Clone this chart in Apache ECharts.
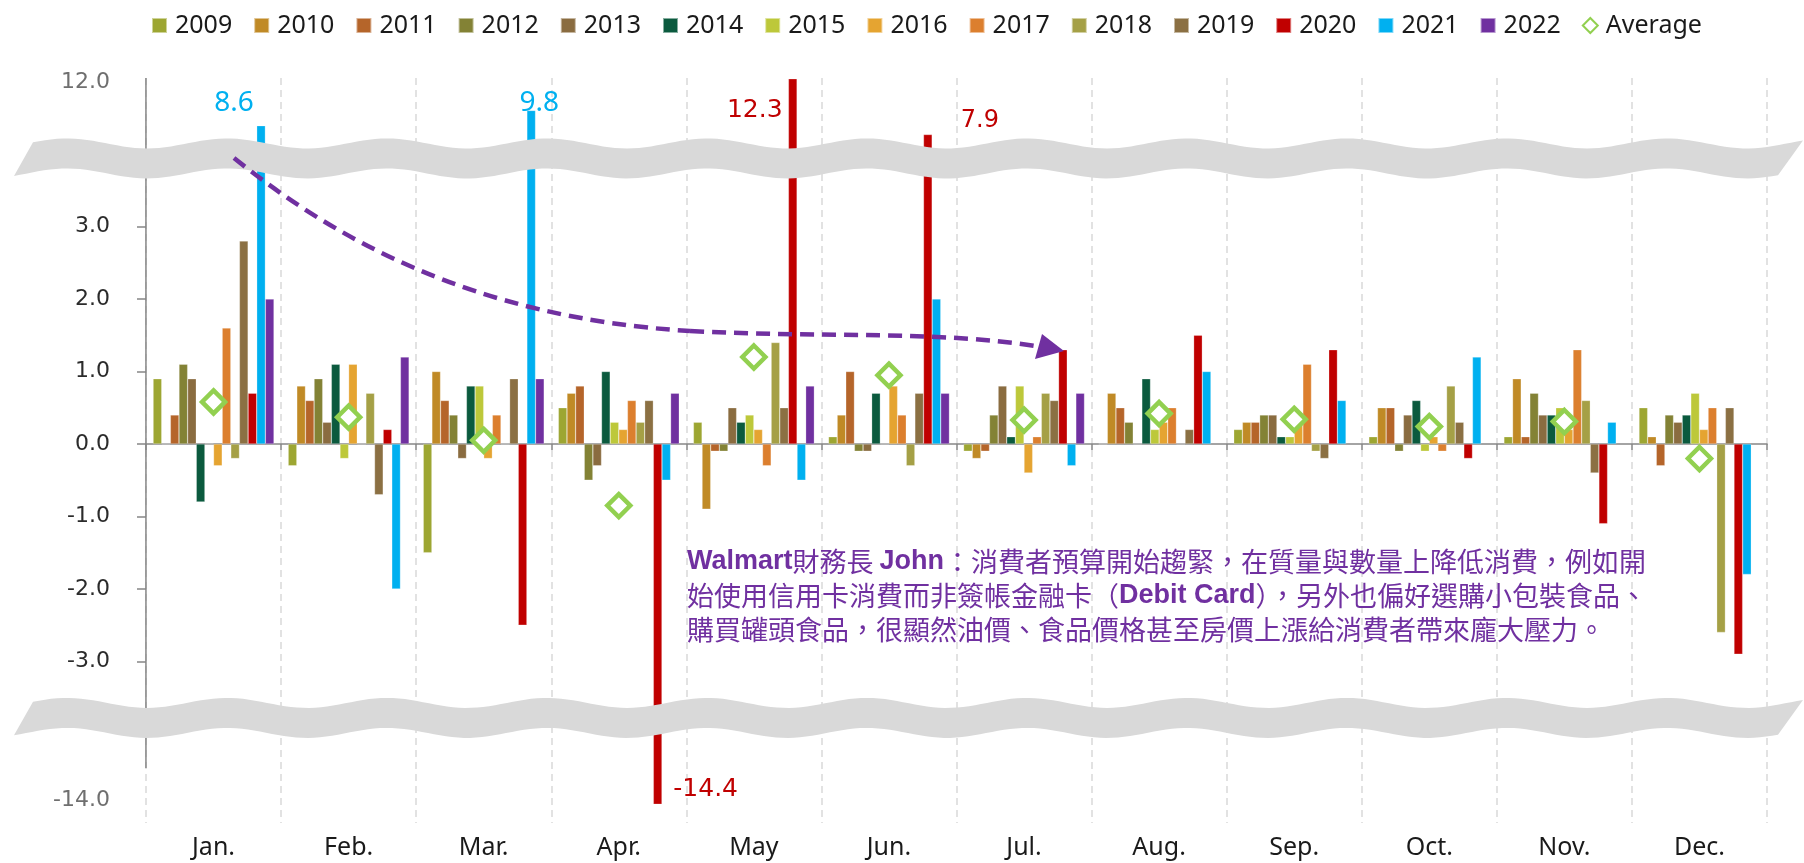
<!DOCTYPE html>
<html>
<head>
<meta charset="utf-8">
<script src="https://cdn.jsdelivr.net/npm/echarts@6/dist/echarts.min.js"></script>
<style>
    html, body { margin: 0; padding: 0; background: #fff; }
    #main { width: 1804px; height: 863px; }
</style>
</head>
<body>
<div id="main"></div>
<script>
    // categories
    var months = ['Jan.', 'Feb.', 'Mar.', 'Apr.', 'May', 'Jun.', 'Jul.', 'Aug.', 'Sep.', 'Oct.', 'Nov.', 'Dec.'];
    var years = ['2009', '2010', '2011', '2012', '2013', '2014', '2015', '2016', '2017', '2018', '2019', '2020', '2021', '2022'];

    // monthly values per year
    var v2009 = [0.9, -0.3, -1.5, 0.5, 0.3, 0.1, -0.1, 0, 0.2, 0.1, 0.1, 0.5];
    var v2010 = [0, 0.8, 1.0, 0.7, -0.9, 0.4, -0.2, 0.7, 0.3, 0.5, 0.9, 0.1];
    var v2011 = [0.4, 0.6, 0.6, 0.8, -0.1, 1.0, -0.1, 0.5, 0.3, 0.5, 0.1, -0.3];
    var v2012 = [1.1, 0.9, 0.4, -0.5, -0.1, -0.1, 0.4, 0.3, 0.4, -0.1, 0.7, 0.4];
    var v2013 = [0.9, 0.3, -0.2, -0.3, 0.5, -0.1, 0.8, 0, 0.4, 0.4, 0.4, 0.3];
    var v2014 = [-0.8, 1.1, 0.8, 1.0, 0.3, 0.7, 0.1, 0.9, 0.1, 0.6, 0.4, 0.4];
    var v2015 = [0, -0.2, 0.8, 0.3, 0.4, 0, 0.8, 0.2, 0.1, -0.1, 0.5, 0.7];
    var v2016 = [-0.3, 1.1, -0.2, 0.2, 0.2, 0.8, -0.4, 0.3, 0.3, 0.1, 0.2, 0.2];
    var v2017 = [1.6, 0, 0.4, 0.6, -0.3, 0.4, 0.1, 0.5, 1.1, -0.1, 1.3, 0.5];
    var v2018 = [-0.2, 0.7, 0, 0.3, 1.4, -0.3, 0.7, 0, -0.1, 0.8, 0.6, -2.6];
    var v2019 = [2.8, -0.7, 0.9, 0.6, 0.5, 0.7, 0.6, 0.2, -0.2, 0.3, -0.4, 0.5];
    var v2020 = [0.7, 0.2, -2.5, -14.4, 12.3, 7.9, 1.3, 1.5, 1.3, -0.2, -1.1, -2.9];
    var v2021 = [8.6, -2.0, 9.8, -0.5, -0.5, 2.0, -0.3, 1.0, 0.6, 1.2, 0.3, -1.8];
    var v2022 = [2.0, 1.2, 0.9, 0.7, 0.8, 0.7, 0.7, null, null, null, null, null];
    var average = [0.58, 0.37, 0.05, -0.85, 1.2, 0.95, 0.33, 0.42, 0.34, 0.24, 0.31, -0.2];

    var yearValues = [v2009, v2010, v2011, v2012, v2013, v2014, v2015, v2016, v2017, v2018, v2019, v2020, v2021, v2022];

    // y-axis tick labels (real values) on the broken axis
    var labelTicks = [-14, -3, -2, -1, 0, 1, 2, 3, 12];
    var markTicks = [-3, -2, -1, 0, 1, 2, 3];

    var colors = ['#9da632', '#c08a26', '#b5652a', '#838235', '#8a6c40', '#0b5a3e', '#bdc83a',
        '#e5a431', '#dc7f2e', '#a5a046', '#8b7043', '#c00000', '#00b0f0', '#7030a0'];

    // broken axis: linear between -3.5 and 3.5, squeezed outside
    var BRK = 3.5, K_TOP = 0.175, K_BOT = 0.135;
    function toAxis(v) {
        if (v == null) return null;
        if (v > BRK) return BRK + (v - BRK) * K_TOP;
        if (v < -BRK) return -BRK + (v + BRK) * K_BOT;
        return v;
    }
    function fromAxis(d) {
        if (d > BRK) return BRK + (d - BRK) / K_TOP;
        if (d < -BRK) return -BRK + (d + BRK) / K_BOT;
        return d;
    }

    // value callouts for the off-scale bars: [year, month, position, offset, colour, font, size]
    var callouts = [
        ['2021', 0, 'top', [-27, -4], '#00b0f0', 'Noto Sans', 28],
        ['2021', 2, 'top', [8, 12], '#00b0f0', 'Noto Sans', 28],
        ['2020', 4, 'top', [-38, 49], '#c00000', 'DejaVu Sans', 25],
        ['2020', 5, 'top', [52, 3], '#c00000', 'DejaVu Sans', 24],
        ['2020', 3, 'bottom', [48, -32], '#c00000', 'DejaVu Sans', 25]
    ];

    var chart = echarts.init(document.getElementById('main'));

    var series = years.map(function (y, i) {
        return {
            name: y,
            type: 'bar',
            barGap: '0%',
            barCategoryGap: '10.5%',
            z: 2,
            itemStyle: {color: colors[i], borderColor: 'rgba(255,255,255,0.5)', borderWidth: 0.5},
            data: yearValues[i].map(function (v, m) {
                var item = {value: toAxis(v)};
                callouts.forEach(function (c) {
                    if (c[0] === y && c[1] === m) {
                        item.label = {
                            show: true, position: c[2], offset: c[3], distance: 5,
                            formatter: v.toFixed(1), color: c[4],
                            fontFamily: c[5], fontSize: c[6]
                        };
                    }
                });
                return item;
            })
        };
    });

    series.push({
        name: 'Average',
        type: 'scatter',
        xAxisIndex: 0,
        symbol: 'diamond',
        symbolSize: 23,
        z: 5,
        itemStyle: {color: '#ffffff', borderColor: '#92d050', borderWidth: 4.5, opacity: 1},
        data: average.map(toAxis)
    });

    var legendData = years.map(function (y) {
        return {name: y, icon: 'rect'};
    });
    legendData.push({name: 'Average', icon: 'diamond'});

    chart.setOption({
        animation: false,
        backgroundColor: '#ffffff',
        legend: {
            left: 146,
            top: 8,
            itemWidth: 15,
            itemHeight: 15,
            itemGap: 21,
            data: legendData,
            textStyle: {fontFamily: 'Noto Sans', fontSize: 25, color: '#1a1a1a', padding: [0, 0, 0, 3]}
        },
        grid: {left: 146, right: 37, top: 78, bottom: 40},
        xAxis: [
            {
                type: 'category',
                data: months,
                position: 'bottom',
                axisLine: {show: false, onZero: false},
                axisTick: {show: false},
                axisLabel: {fontFamily: 'Noto Sans', fontSize: 25, color: '#1a1a1a', margin: 12},
                splitLine: {show: true, lineStyle: {color: '#d9d9d9', width: 1.5, type: [7, 5]}}
            },
            {
                type: 'category',
                data: months,
                position: 'bottom',
                axisLine: {show: true, onZero: true, lineStyle: {color: '#868686', width: 1.5}},
                axisTick: {show: true, length: 6, lineStyle: {color: '#868686', width: 1.5}},
                axisLabel: {show: false},
                splitLine: {show: false}
            }
        ],
        yAxis: {
            type: 'value',
            min: -5.23,
            max: 5.05,
            axisLine: {show: false},
            axisTick: {show: true, length: 9, customValues: markTicks.map(toAxis), lineStyle: {color: '#868686', width: 1.5}},
            axisLabel: {
                customValues: labelTicks.map(toAxis),
                margin: 36,
                fontFamily: 'DejaVu Sans',
                fontSize: 22,
                color: function (val) {
                    return Math.abs(val) > 4 ? '#6f6f6f' : '#2b2b2b';
                },
                formatter: function (val) {
                    return fromAxis(val).toFixed(1);
                }
            },
            splitLine: {show: false}
        },
        series: series
    });

    // break ribbons, axis line and the annotation, drawn over the plot
    function bandPoints(yc) {
        var half = 15, amp = 5, P = 160, x0 = 27;
        var pts = [];
        for (var x = 33; x <= 1804; x += 6) {
            pts.push([x, yc - half - amp * Math.sin(2 * Math.PI * (x - x0) / P)]);
        }
        for (var x2 = 1778; x2 >= 10; x2 -= 6) {
            pts.push([x2, yc + half - amp * Math.sin(2 * Math.PI * (x2 - x0) / P)]);
        }
        return pts;
    }

    var yUp = chart.convertToPixel({yAxisIndex: 0}, 3.94);
    var yDown = chart.convertToPixel({yAxisIndex: 0}, -3.78);
    var axisTop = chart.convertToPixel({yAxisIndex: 0}, 5.05);
    var axisBottom = chart.convertToPixel({yAxisIndex: 0}, -4.47);
    var axisX = chart.convertToPixel({xAxisIndex: 0}, 0) - 135.2 / 2;

    var dashed = {fill: null, stroke: '#7030a0', lineWidth: 4.5, lineDash: [14, 8]};

    chart.setOption({
        graphic: [
            {
                type: 'line', z: 90,
                shape: {x1: axisX, y1: axisTop, x2: axisX, y2: axisBottom},
                style: {stroke: '#868686', lineWidth: 1.5}
            },
            {type: 'polygon', z: 100, shape: {points: bandPoints(yUp)}, style: {fill: '#d9d9d9'}},
            {type: 'polygon', z: 100, shape: {points: bandPoints(yDown)}, style: {fill: '#d9d9d9'}},
            {
                type: 'bezierCurve', z: 110,
                shape: {x1: 234, y1: 158, cpx1: 330, cpy1: 235, cpx2: 470, cpy2: 318, x2: 690, y2: 331},
                style: dashed
            },
            {
                type: 'bezierCurve', z: 110,
                shape: {x1: 690, y1: 331, cpx1: 820, cpy1: 338, cpx2: 940, cpy2: 330, x2: 1042, y2: 347},
                style: dashed
            },
            {
                type: 'polygon', z: 110,
                shape: {points: [[1042, 334], [1035, 359], [1064, 351]]},
                style: {fill: '#7030a0'}
            },
            {
                type: 'text', z: 110, x: 687, y: 545,
                style: {
                    text: '{b|Walmart}{n|財務長 }{b|John}{n|：消費者預算開始趨緊，在質量與數量上降低消費，例如開}\n' +
                        '{n|始使用信用卡消費而非簽帳金融卡（}{b|Debit Card}{n|），另外也偏好選購小包裝食品、}\n' +
                        '{n|購買罐頭食品，很顯然油價、食品價格甚至房價上漲給消費者帶來龐大壓力。}',
                    rich: {
                        n: {fontFamily: 'Noto Sans CJK TC', fontSize: 27, fontWeight: 'normal', fill: '#7030a0', lineHeight: 34},
                        b: {fontFamily: 'Liberation Sans', fontSize: 27, fontWeight: 'bold', fill: '#7030a0', lineHeight: 34}
                    }
                }
            }
        ]
    });
</script>
</body>
</html>
